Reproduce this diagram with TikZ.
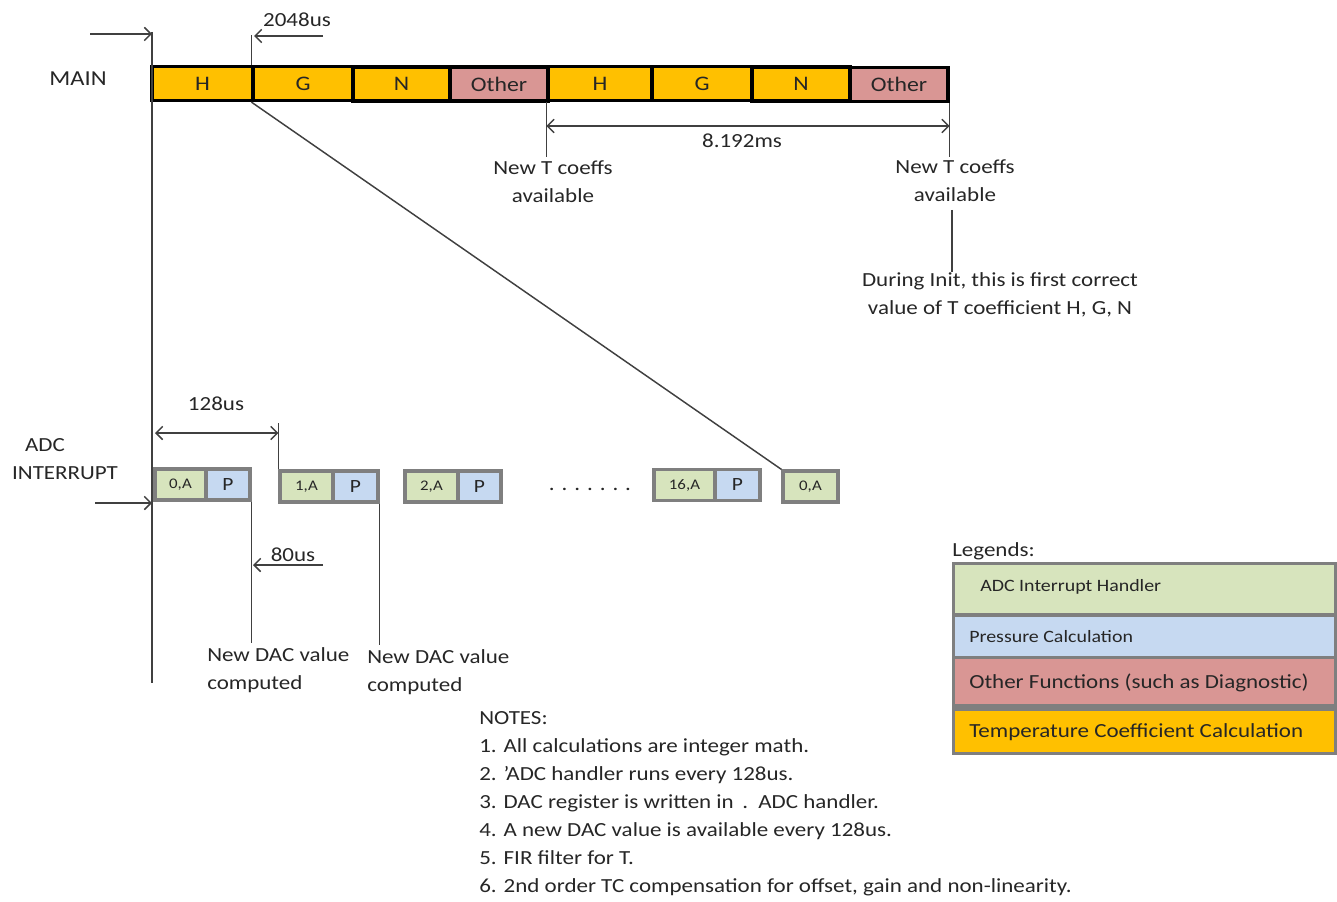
\documentclass[tikz,border=0pt]{standalone}
\usepackage{fontspec}
\setmainfont{Carlito}[FakeStretch=1.15]
\usetikzlibrary{arrows.meta}
\definecolor{tcorange}{HTML}{FFC000}
\definecolor{othpink}{HTML}{D99694}
\definecolor{adcgreen}{HTML}{D7E4BD}
\definecolor{prsblue}{HTML}{C6D9F1}
\definecolor{framegray}{HTML}{7F7F7F}
\definecolor{ink}{HTML}{262626}
\definecolor{wire}{HTML}{404040}
\begin{document}
\begin{tikzpicture}[x=0.75pt,y=-0.75pt,
  txt/.style={text=ink, inner sep=0pt, font=\fontsize{15}{21}\selectfont},
  mbox/.style={draw=black, line width=2.4pt, inner sep=0pt, minimum height={34*0.75pt}, text=ink, font=\fontsize{15.5}{17}\selectfont},
  tcbox/.style={mbox, fill=tcorange},
  othbox/.style={mbox, fill=othpink},
  abox/.style={draw=framegray, line width=2.4pt, inner sep=0pt, minimum height={31*0.75pt}, fill=adcgreen, text=ink, font=\fontsize{11}{13}\selectfont},
  pbox/.style={abox, fill=prsblue, font=\fontsize{14}{16}\selectfont},
  wireline/.style={draw=wire, line width=1.1pt},
  arr/.style={wireline, -{Straight Barb[length=5pt,width=10pt]}},
  darr/.style={wireline, {Straight Barb[length=5pt,width=10pt]}-{Straight Barb[length=5pt,width=10pt]}},
]
\useasboundingbox (0,0) rectangle (1337,902);

% ---------- MAIN row ----------
\node[txt, font=\fontsize{16}{18}\selectfont] (mainlbl) at (78,79) {MAIN};
\node[tcbox, minimum width={101*0.75pt}] (h1) at (202.5,83.5) {H};
\node[tcbox, minimum width={100*0.75pt}] (g1) at (303,83.5) {G};
\node[tcbox, minimum width={97*0.75pt}] (n1) at (401.5,84) {N};
\node[othbox, minimum width={98*0.75pt}] (o1) at (499,84) {Other};
\node[tcbox, minimum width={104*0.75pt}] (h2) at (600,83.5) {H};
\node[tcbox, minimum width={100*0.75pt}] (g2) at (702,83.5) {G};
\node[tcbox, minimum width={98*0.75pt}] (n2) at (801,84) {N};
\node[othbox, minimum width={98*0.75pt}] (o2) at (899,84.5) {Other};

% start markers
\coordinate (mltop) at (152,32);
\coordinate (mlbot) at (152,683);
\draw[wireline] (mltop) -- (mlbot);
\coordinate (mainarrfrom) at (90,34);
\coordinate (mainarrto) at (152,34);
\draw[arr] (mainarrfrom) -- (mainarrto);

\coordinate (gtick) at (253,35);
\draw[wireline] (g1.north west) -- (g1.north west |- gtick);
\coordinate (garrfrom) at (323,36);
\coordinate (garrto) at (254,36);
\draw[arr] (garrfrom) -- (garrto);
\node[txt] (t2048) at (297,20) {2048us};

% 8.192ms
\coordinate (lowy) at (0,157);
\draw[wireline] (h2.south west) -- (h2.south west |- lowy);
\draw[wireline] (o2.south east) -- (o2.south east |- lowy);
\coordinate (msy) at (0,126);
\draw[darr] (h2.south west |- msy) -- (o2.south east |- msy);
\node[txt] (t8192) at (742,141) {8.192ms};

\node[txt, align=center] (tc1) at (553,182) {New  T coeffs\\available};
\node[txt, align=center] (tc2) at (955,181) {New  T coeffs\\available};
\node[txt, align=center] (init) at (1000,295) {During Init, this is first correct\\value of T coefficient H, G, N};
\coordinate (initup) at (952,210);
\coordinate (initdn) at (952,272);
\draw[wireline] (initup) -- (initdn);

% ---------- ADC row ----------
\node[txt] (adclbl) at (45,445) {ADC};
\node[txt] (intlbl) at (65,473) {INTERRUPT};
\coordinate (adcarrfrom) at (95,503);
\coordinate (adcarrto) at (152,503);
\draw[arr] (adcarrfrom) -- (adcarrto);

\node[abox, minimum width={51*0.75pt}] (a0) at (180.5,484.5) {0,A};
\node[pbox, minimum width={44*0.75pt}] (p0) at (228,484.5) {P};
\node[abox, minimum width={53*0.75pt}] (a1) at (306.5,486.5) {1,A};
\node[pbox, minimum width={45*0.75pt}] (p1) at (355.5,486.5) {P};
\node[abox, minimum width={53*0.75pt}] (a2) at (431.5,486.5) {2,A};
\node[pbox, minimum width={43*0.75pt}] (p2) at (479.5,486.5) {P};
\node[txt] (dots) at (590,489) {. . . . . . .};
\node[abox, minimum width={61*0.75pt}] (a16) at (684.5,485) {16,A};
\node[pbox, minimum width={45*0.75pt}] (p16) at (737.5,485) {P};
\node[abox, minimum width={55*0.75pt}] (alast) at (810.5,486.5) {0,A};

% diagonal from G to last 0,A
\draw[wireline] (g1.south west) -- (alast.north west);

% 128us
\coordinate (usy) at (0,433);
\draw[darr] (155,433) -- (a1.north west |- usy);
\coordinate (a1tick) at (0,423);
\draw[wireline] (a1.north west |- a1tick) -- (a1.north west);
\node[txt] (t128) at (216,404) {128us};

% DAC computed
\coordinate (p0low) at (0,643);
\coordinate (p1low) at (0,645);
\draw[wireline] (p0.south east) -- (p0.south east |- p0low);
\draw[wireline] (p1.south east) -- (p1.south east |- p1low);
\coordinate (usfrom) at (323,565);
\coordinate (usto) at (253,565);
\draw[arr] (usfrom) -- (usto);
\node[txt] (t80) at (293,555) {80us};
\node[txt, align=left, anchor=north west] (dac0) at (207,647) {New DAC value\\computed};
\node[txt, align=left, anchor=north west] (dac1) at (367,649) {New DAC value\\computed};

% ---------- Legend ----------
\node[txt, anchor=west] (leglbl) at (952,551) {Legends:};
\fill[framegray] (952,562) rectangle (1337,755);
\fill[adcgreen] (955,565) rectangle (1334,613);
\fill[prsblue] (955,617) rectangle (1334,656);
\fill[othpink] (955,659) rectangle (1334,704);
\fill[tcorange] (955,711) rectangle (1334,752);
\node[txt, anchor=west, font=\fontsize{13}{15}\selectfont] (lg1) at (980,587) {ADC Interrupt Handler};
\node[txt, anchor=west, font=\fontsize{13}{15}\selectfont] (lg2) at (969,637) {Pressure Calculation};
\node[txt, anchor=west] (lg3) at (969,683) {Other Functions (such as Diagnostic)};
\node[txt, anchor=west] (lg4) at (969,732) {Temperature Coefficient Calculation};

% ---------- Notes ----------
\node[txt, align=left, anchor=north west] (notes) at (479,711) {NOTES:\\
1. All calculations are integer math.\\
2. 'ADC handler runs every 128us.\\
3. DAC register is written in \,.\, ADC handler.\\
4. A new DAC value is available every 128us.\\
5. FIR filter for T.\\
6. 2nd order TC compensation for offset, gain and non-linearity.};
\end{tikzpicture}
\end{document}
